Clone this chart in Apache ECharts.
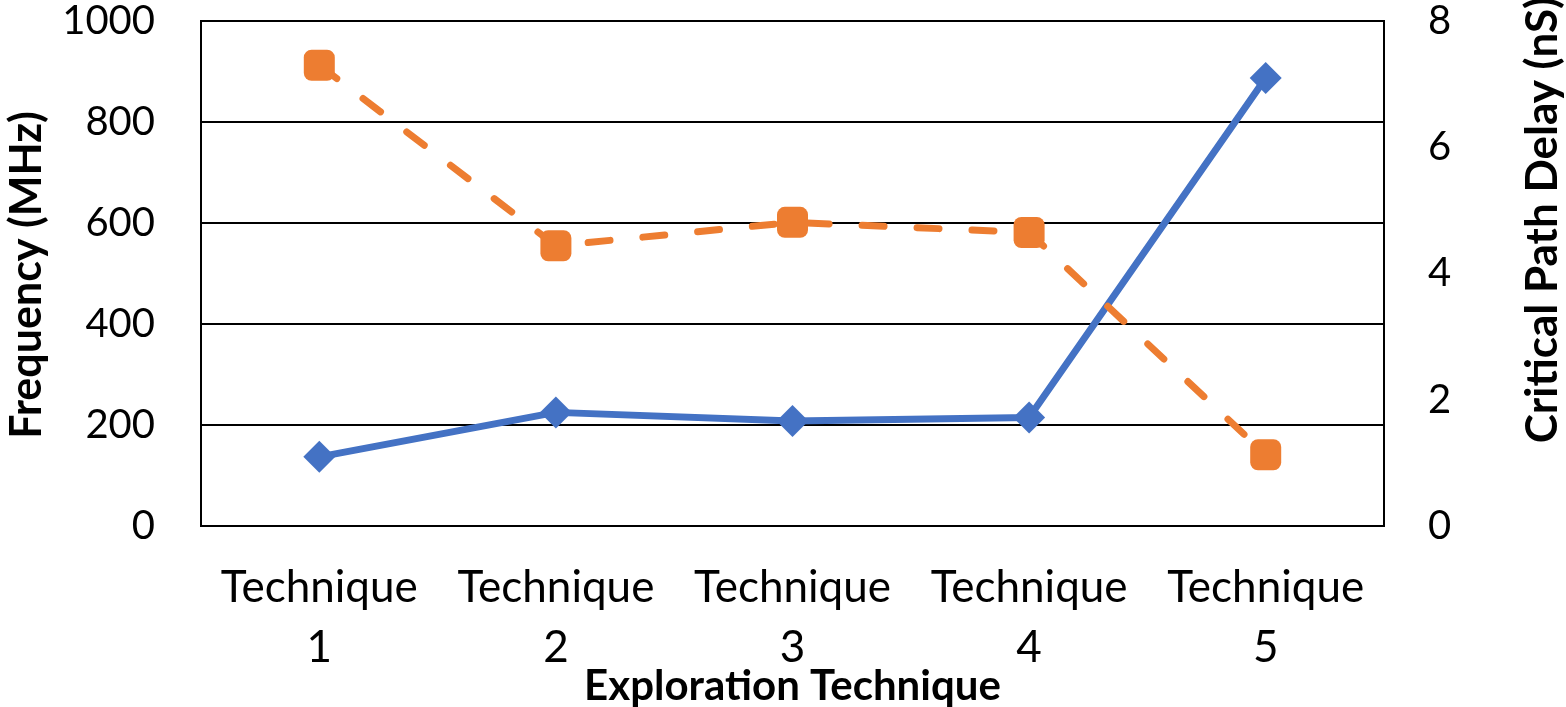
<!DOCTYPE html>
<html>
<head>
<meta charset="utf-8">
<script src="https://cdn.jsdelivr.net/npm/echarts@6/dist/echarts.min.js"></script>
<style>
  html, body { margin: 0; padding: 0; background: #fff; }
  #chart { width: 1566px; height: 707px; }
</style>
</head>
<body>
<div id="chart"></div>
<script>
// Categories and measured values per exploration technique
const categories = ['Technique\n1', 'Technique\n2', 'Technique\n3', 'Technique\n4', 'Technique\n5'];
const frequencyMHz = [137, 225, 208, 215, 887];
const criticalPathDelayNs = [7.3, 4.44, 4.81, 4.65, 1.13];

const FONT = 'Lato, "Open Sans", sans-serif';
const BLUE = '#4472C4';
const ORANGE = '#ED7D31';

const chart = echarts.init(document.getElementById('chart'), null, { renderer: 'canvas' });

chart.setOption({
  animation: false,
  backgroundColor: '#fff',
  grid: {
    left: 201, right: 182, top: 21, bottom: 181,
    outerBoundsMode: 'none', containLabel: false,
    show: true, borderColor: '#000', borderWidth: 2, backgroundColor: 'transparent'
  },
  xAxis: {
    type: 'category',
    data: categories,
    boundaryGap: true,
    axisLine: { show: true, lineStyle: { color: '#000', width: 2 } },
    axisTick: { show: false },
    axisLabel: {
      color: '#000', fontFamily: FONT, fontSize: 44, lineHeight: 60,
      margin: 32, interval: 0
    },
    name: 'Exploration Technique',
    nameLocation: 'middle',
    nameMoveOverlap: false,
    nameGap: 160,
    nameTextStyle: {
      color: '#000', fontFamily: FONT, fontSize: 42, fontWeight: 'bold',
      verticalAlign: 'middle'
    }
  },
  yAxis: [
    {
      type: 'value', min: 0, max: 1000, interval: 200,
      axisLine: { show: false }, axisTick: { show: false },
      axisLabel: {
        color: '#000', fontFamily: FONT, fontSize: 40, margin: 46,
        formatter: (v) => String(v)
      },
      splitLine: { show: true, lineStyle: { color: '#000', width: 2 } }
    },
    {
      type: 'value', min: 0, max: 8, interval: 2, position: 'right',
      axisLine: { show: false }, axisTick: { show: false },
      axisLabel: {
        color: '#000', fontFamily: FONT, fontSize: 40, margin: 44,
        formatter: (v) => String(v)
      },
      splitLine: { show: false }
    }
  ],
  graphic: [
    {
      type: 'text', x: 27, y: 275, rotation: Math.PI / 2,
      style: {
        text: 'Frequency (MHz)', fill: '#000', font: 'bold 43px ' + FONT,
        align: 'center', verticalAlign: 'middle'
      }
    },
    {
      type: 'text', x: 1543, y: 220, rotation: Math.PI / 2,
      style: {
        text: 'Critical Path Delay (nS)', fill: '#000', font: 'bold 44px ' + FONT,
        align: 'center', verticalAlign: 'middle'
      }
    }
  ],
  series: [
    {
      name: 'Frequency', type: 'line', yAxisIndex: 0,
      data: frequencyMHz,
      symbol: 'diamond', symbolSize: 32,
      itemStyle: { color: BLUE },
      lineStyle: { color: BLUE, width: 7, cap: 'round', join: 'round' },
      z: 2
    },
    {
      name: 'Critical Path Delay', type: 'line', yAxisIndex: 1,
      data: criticalPathDelayNs,
      symbol: 'roundRect', symbolSize: 31,
      itemStyle: { color: ORANGE },
      lineStyle: { color: ORANGE, width: 7, type: [22, 33], cap: 'round', join: 'round' },
      z: 3
    }
  ]
});
</script>
</body>
</html>
